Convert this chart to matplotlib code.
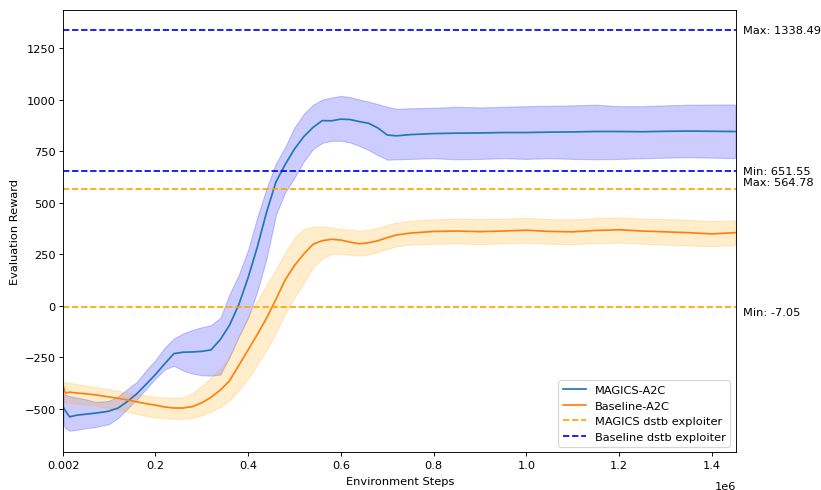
import numpy as np
import matplotlib
matplotlib.use("Agg")
import matplotlib.pyplot as plt

# evaluation steps (millions)
steps_m = [0.002, 0.006, 0.015, 0.03, 0.05, 0.07, 0.09, 0.10, 0.12, 0.14,
           0.16, 0.18, 0.20, 0.22, 0.24, 0.26, 0.28, 0.30, 0.32, 0.34,
           0.36, 0.38, 0.40, 0.42, 0.44, 0.46, 0.48, 0.50, 0.52, 0.54,
           0.56, 0.58, 0.60, 0.62, 0.64, 0.66, 0.68, 0.70, 0.72, 0.75,
           0.80, 0.85, 0.90, 0.95, 1.00, 1.05, 1.10, 1.15, 1.20, 1.25,
           1.30, 1.35, 1.40, 1.45]

# MAGICS-A2C reward (mean and band)
magics_mean = [-495, -510, -540, -532, -527, -522, -516, -512, -497, -465,
               -428, -382, -335, -283, -233, -226, -225, -222, -215, -165,
               -95, 5, 135, 285, 455, 600, 685, 760, 820, 865,
               898, 897, 905, 903, 893, 885, 862, 828, 824, 830,
               835, 837, 838, 840, 840, 842, 843, 845, 845, 844,
               846, 847, 846, 845]
magics_low = [-580, -595, -607, -603, -595, -590, -580, -575, -545, -500,
              -455, -405, -355, -310, -292, -315, -330, -338, -340, -335,
              -250, -150, -60, 70, 230, 440, 550, 620, 700, 760,
              790, 800, 800, 792, 775, 755, 730, 708, 710, 712,
              715, 710, 712, 715, 712, 715, 712, 710, 712, 715,
              718, 720, 718, 716]
magics_high = [-430, -432, -440, -446, -455, -466, -465, -462, -440, -405,
               -370, -315, -265, -205, -160, -135, -118, -105, -95, -60,
               55, 150, 270, 430, 570, 690, 770, 865, 930, 975,
               1000, 1010, 1018, 1012, 1000, 990, 978, 965, 955, 958,
               960, 965, 962, 965, 968, 970, 972, 975, 968, 968,
               972, 975, 976, 976]

# Baseline-A2C reward (mean and band)
base_mean = [-395, -425, -420, -424, -428, -433, -440, -443, -450, -458,
             -467, -476, -483, -492, -497, -497, -490, -472, -445, -410,
             -365, -290, -215, -140, -60, 30, 125, 195, 250, 298,
             315, 322, 318, 308, 300, 305, 315, 330, 343, 352,
             360, 362, 359, 362, 366, 360, 358, 365, 368, 362,
             358, 354, 348, 354]
base_low = [-470, -470, -472, -476, -481, -486, -494, -498, -506, -516,
            -526, -535, -542, -546, -549, -550, -545, -532, -515, -492,
            -460, -410, -355, -285, -215, -130, -40, 40, 110, 185,
            230, 250, 250, 247, 243, 248, 260, 275, 288, 296,
            300, 302, 298, 302, 305, 300, 298, 303, 306, 300,
            296, 292, 288, 295]
base_high = [-368, -372, -375, -380, -388, -395, -402, -406, -414, -421,
             -430, -437, -443, -446, -447, -445, -425, -390, -350, -305,
             -245, -150, -50, 25, 100, 175, 258, 330, 372, 383,
             385, 378, 372, 368, 364, 368, 378, 392, 403, 412,
             418, 422, 420, 422, 426, 420, 418, 425, 428, 422,
             420, 416, 410, 414]

# exploiter reference levels
magics_exploit = {"max": 564.78, "min": -7.05}
baseline_exploit = {"max": 1338.49, "min": 651.55}

xtick_vals = [2000, 200000, 400000, 600000, 800000, 1000000, 1200000, 1400000]
xtick_labels = ["0.002", "0.2", "0.4", "0.6", "0.8", "1.0", "1.2", "1.4"]

steps = np.array(steps_m) * 1e6

# 10x6 inch figure drawn at reduced dpi -> 821x491 px
fig = plt.figure(figsize=(10, 5.98), dpi=82.1)
ax = fig.add_axes([63.5 / 821, (491 - 453.3) / 491, (736 - 63.5) / 821, (453.3 - 10.7) / 491])

ax.plot(steps, magics_mean, color="tab:blue", lw=1.5, label="MAGICS-A2C")
ax.fill_between(steps, magics_low, magics_high, color="blue", alpha=0.2)
ax.plot(steps, base_mean, color="tab:orange", lw=1.5, label="Baseline-A2C")
ax.fill_between(steps, base_low, base_high, color="orange", alpha=0.2)

ax.axhline(magics_exploit["max"], color="orange", ls="--", lw=1.5, label="MAGICS dstb exploiter")
ax.axhline(magics_exploit["min"], color="orange", ls="--", lw=1.5)
ax.axhline(baseline_exploit["max"], color="blue", ls="--", lw=1.5, label="Baseline dstb exploiter")
ax.axhline(baseline_exploit["min"], color="blue", ls="--", lw=1.5)

# value labels to the right of the axes
trans = ax.get_yaxis_transform()
labels = [(baseline_exploit["max"], "Max: %.2f" % baseline_exploit["max"], 0),
          (baseline_exploit["min"], "Min: %.2f" % baseline_exploit["min"], 0),
          (magics_exploit["max"], "Max: %.2f" % magics_exploit["max"], 6.5),
          (magics_exploit["min"], "Min: %.2f" % magics_exploit["min"], -4)]
for val, txt, dy in labels:
    ax.annotate(txt, xy=(1.0, val), xycoords=trans, xytext=(6, dy),
                textcoords="offset points", va="center", ha="left", fontsize=10)

ax.set_xlim(2000, 1.452e6)
ax.set_ylim(-712, 1436)
ax.set_xticks(xtick_vals)
ax.set_xticklabels(xtick_labels)
ax.text(1.0, -0.066, "1e6", transform=ax.transAxes, ha="right", va="top", fontsize=10)

ax.set_xlabel("Environment Steps", labelpad=5)
ax.set_ylabel("Evaluation Reward")
ax.legend(loc="lower right")

fig.savefig("out.png", dpi=82.1)
